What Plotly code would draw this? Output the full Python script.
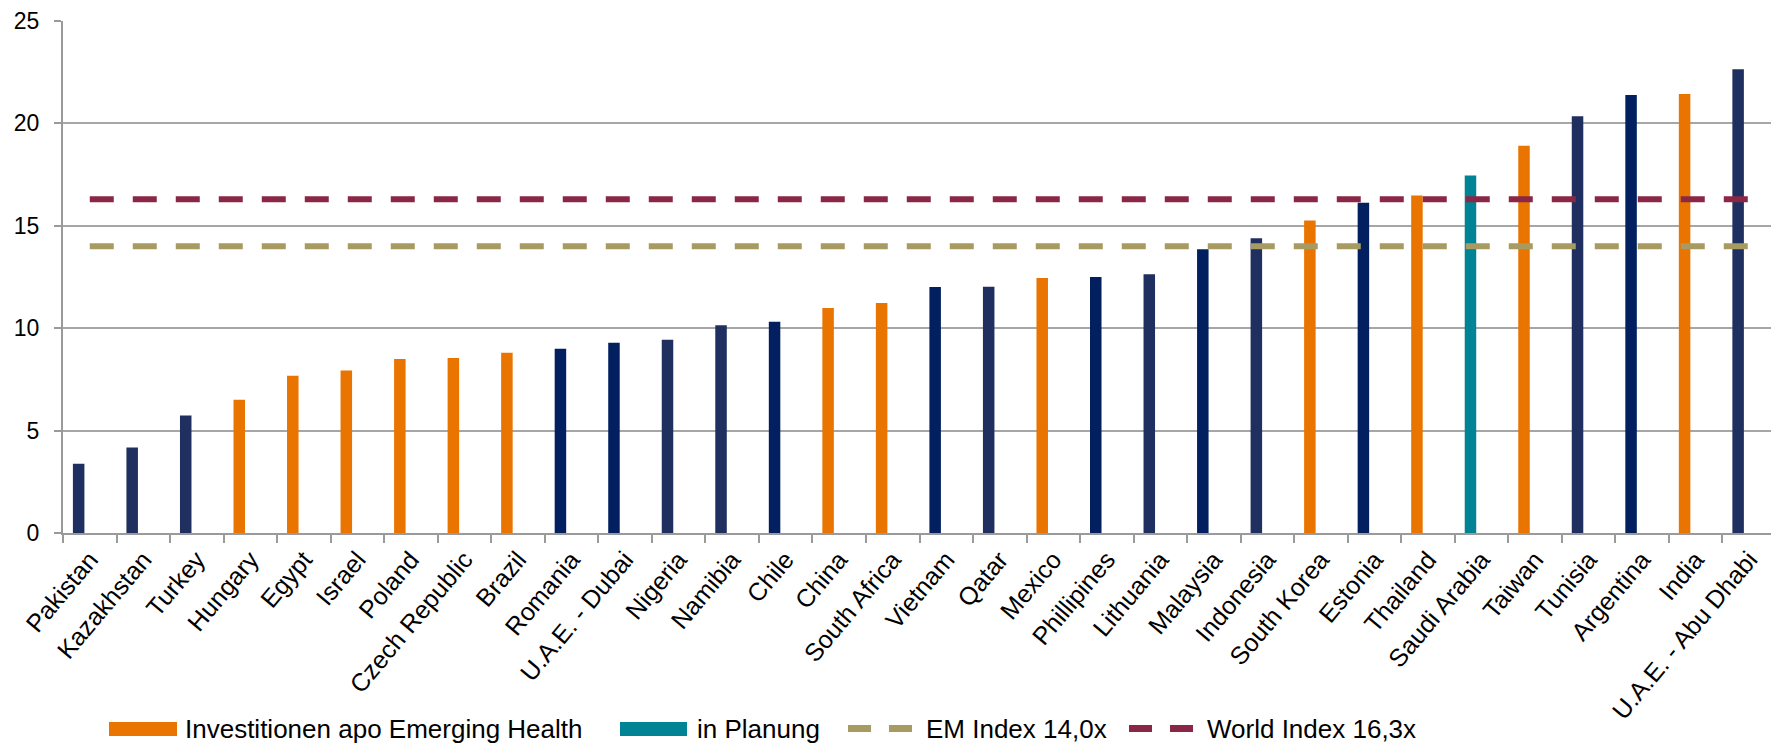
import plotly.graph_objects as go

categories = ["Pakistan", "Kazakhstan", "Turkey", "Hungary", "Egypt", "Israel", "Poland",
              "Czech Republic", "Brazil", "Romania", "U.A.E. - Dubai", "Nigeria", "Namibia",
              "Chile", "China", "South Africa", "Vietnam", "Qatar", "Mexico", "Phillipines",
              "Lithuania", "Malaysia", "Indonesia", "South Korea", "Estonia", "Thailand",
              "Saudi Arabia", "Taiwan", "Tunisia", "Argentina", "India", "U.A.E. - Abu Dhabi"]
values = [3.38, 4.18, 5.74, 6.51, 7.68, 7.93, 8.50, 8.55, 8.80, 9.00, 9.29, 9.44, 10.14,
          10.31, 10.99, 11.23, 12.01, 12.03, 12.45, 12.50, 12.63, 13.86, 14.39, 15.26,
          16.13, 16.48, 17.45, 18.91, 20.35, 21.39, 21.44, 22.64]
# group of each bar: "a" navy, "b" dark navy, "apo" investments, "plan" in planning
groups = ["a", "a", "a", "apo", "apo", "apo", "apo", "apo", "apo", "b", "b", "a", "a",
          "b", "apo", "apo", "b", "a", "apo", "b", "a", "b", "a", "apo", "b", "apo",
          "plan", "apo", "a", "b", "apo", "a"]
em_index = 14.0
world_index = 16.3
legend_labels = ["Investitionen apo Emerging Health", "in Planung", "EM Index 14,0x", "World Index 16,3x"]

colors = {"a": "#1F3060", "b": "#022060", "apo": "#EA7400", "plan": "#008395"}
names = {"a": "Markt", "b": "Markt 2", "apo": legend_labels[0], "plan": legend_labels[1]}
em_color = "#A89B62"
world_color = "#8B2746"

fig = go.Figure()
for g in ["a", "b", "apo", "plan"]:
    xs = [c for c, gg in zip(categories, groups) if gg == g]
    ys = [v for v, gg in zip(values, groups) if gg == g]
    fig.add_trace(go.Bar(
        x=xs, y=ys, name=names[g], marker_color=colors[g],
        marker_line_width=0, offset=-0.315, width=0.215, showlegend=False,
    ))

fig.add_trace(go.Scatter(
    x=categories, y=[em_index] * len(categories), mode="lines", name=legend_labels[2],
    line=dict(color=em_color, width=6, dash="24px,19px"), showlegend=False,
))
fig.add_trace(go.Scatter(
    x=categories, y=[world_index] * len(categories), mode="lines", name=legend_labels[3],
    line=dict(color=world_color, width=6, dash="24px,19px"), showlegend=False,
))

OFF = 8  # page body margin of the html page
W, H = 1779 - OFF, 743 - OFF
ML, MR, MT, MB = 55, 3, 13, 210
PW, PH = W - ML - MR, H - MT - MB


def px(xp):
    return (xp - OFF - ML) / PW


def py(yp):
    return (OFF + MT + PH - yp) / PH


font = "Liberation Sans, Arial, sans-serif"
shapes = []
annotations = []
# manual legend (page pixel positions)
shapes.append(dict(type="rect", xref="paper", yref="paper", x0=px(109), x1=px(177),
                   y0=py(736), y1=py(722), fillcolor=colors["apo"], line_width=0))
shapes.append(dict(type="rect", xref="paper", yref="paper", x0=px(620), x1=px(687),
                   y0=py(736), y1=py(722), fillcolor=colors["plan"], line_width=0))
for x0, col in [(848, em_color), (1129, world_color)]:
    shapes.append(dict(type="line", xref="paper", yref="paper", x0=px(x0), x1=px(x0 + 65),
                       y0=py(728.5), y1=py(728.5), line=dict(color=col, width=7, dash="23px,18px")))
for xt, txt in [(185, legend_labels[0]), (697, legend_labels[1]), (926, legend_labels[2]),
                (1207, legend_labels[3])]:
    annotations.append(dict(xref="paper", yref="paper", x=px(xt), y=py(729), text=txt,
                            showarrow=False, xanchor="left", yanchor="middle",
                            xshift=-2, font=dict(family=font, size=26, color="#000000")))

fig.update_layout(
    width=W, height=H,
    margin=dict(l=ML, r=MR, t=MT, b=MB, autoexpand=False),
    paper_bgcolor="white", plot_bgcolor="white",
    barmode="overlay", showlegend=False,
    shapes=shapes, annotations=annotations,
    font=dict(family=font, color="#000000"),
)
fig.update_xaxes(
    type="category", categoryorder="array", categoryarray=categories,
    range=[-0.5, len(categories) - 0.5],
    tickangle=-50, tickfont=dict(size=25, family=font, color="#000000"),
    showline=True, linecolor="#9A9A9A", linewidth=2,
    ticks="outside", tickson="boundaries", ticklen=8, tickcolor="#9A9A9A", tickwidth=2,
    showgrid=False, automargin=False, ticklabeloverflow="allow",
)
fig.update_yaxes(
    range=[0, 25], tickvals=[0, 5, 10, 15, 20, 25],
    tickfont=dict(size=23, family=font, color="#000000"),
    showline=True, linecolor="#9A9A9A", linewidth=2, mirror=True,
    showgrid=True, gridcolor="#A6A6A6", gridwidth=2,
    ticks="outside", ticklen=7, tickcolor="#9A9A9A", tickwidth=2,
    ticklabelstandoff=10, zeroline=False, automargin=False, ticklabeloverflow="allow",
)

fig.write_html("out.html")
